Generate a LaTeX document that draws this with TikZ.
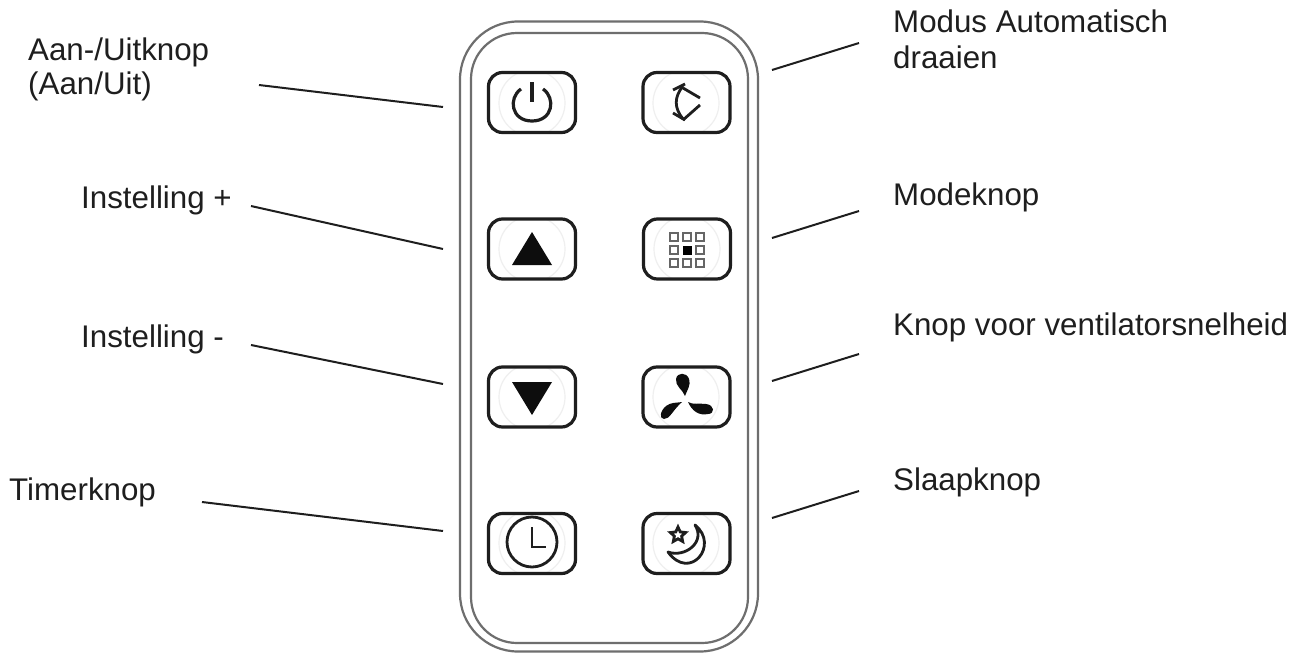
\documentclass[tikz,border=0pt]{standalone}
\usepackage{fontspec}
\setmainfont{Liberation Sans}
\usetikzlibrary{shapes.geometric}
\definecolor{ink}{HTML}{1E1E1E}
\definecolor{shell}{HTML}{6E6E6E}
\definecolor{halo}{HTML}{EFEFEF}
\tikzset{
  x=1pt,y=-1pt,
  lab/.style={anchor=base west,inner sep=0pt,text=ink,font=\fontsize{31.3}{36}\selectfont},
  leader/.style={draw=ink,line width=2pt},
  btn/.style={draw=ink,line width=3.2pt,rounded corners=14pt,minimum width=87pt,minimum height=60pt,inner sep=0pt},
  icon/.style={draw=ink,line width=2.8pt},
  haloline/.style={draw=halo,line width=1.2pt},
  gridcell/.style={draw=black!60,line width=1.8pt,minimum size=8pt,inner sep=0pt},
}
\begin{document}
\begin{tikzpicture}
\useasboundingbox (0,0) rectangle (1290,653);
\fill[white] (0,0) rectangle (1290,653);
% body
\node[draw=shell,line width=2.2pt,rounded corners=58pt,minimum width=298pt,minimum height=630pt,inner sep=0pt] (shellouter) at (609,336.5) {};
\node[draw=shell,line width=2.2pt,rounded corners=46pt,minimum width=277pt,minimum height=610pt,inner sep=0pt] (shellinner) at (609.5,338) {};
% halos
\foreach \cx/\cy in {532/103,686/103,532/249,687/249,532/397,686/397,532/543,686/543}{
  \begin{scope}
    \clip (\cx-43,\cy-29) rectangle (\cx+43,\cy+29);
    \draw[haloline] (\cx,\cy) circle[radius=33pt];
  \end{scope}
}
% buttons
\node[btn] (power) at (532,102.5) {};
\node[btn] (swing) at (686.5,102.5) {};
\node[btn] (plus) at (532,249) {};
\node[btn] (mode) at (687,249) {};
\node[btn] (minus) at (532,397) {};
\node[btn] (fan) at (686.5,397) {};
\node[btn] (timer) at (532,543.5) {};
\node[btn] (sleep) at (686.5,543.5) {};
% power icon
\draw[icon,line width=3.2pt] (521,89) .. controls (508,98) and (511,121) .. (532,121) .. controls (553,121) and (556,98) .. (543,89);
\draw[icon,line width=3.2pt] (532,82) -- (532,102);
% swing icon
\draw[icon] (683,88) -- (700,98);
\draw[icon] (700,105) -- (683,120);
\draw[icon] (683,86) .. controls (674,97) and (674,108) .. (683,119);
\draw[icon] (673,90) -- (685,84);
\draw[icon] (673,113) -- (685,120);
% triangles
\fill[black!95] (532,232) -- (552,265) -- (512,265) -- cycle;
\fill[black!95] (512,382) -- (552,382) -- (532,415) -- cycle;
% mode icon
\foreach \i in {-1,0,1}{\foreach \j in {-1,0,1}{
  \ifnum\i=0 \ifnum\j=0 \else
    \node[gridcell] at (687+13*\i,250+13*\j) {};
  \fi\else
    \node[gridcell] at (687+13*\i,250+13*\j) {};
  \fi
}}
\node[fill=black,minimum size=9pt,inner sep=0pt] (modedot) at (687,250) {};
% fan icon
\begin{scope}[shift={(685,399)}]
  \fill[black!95] (0,-3) .. controls (-2,-9) and (-10,-13) .. (-9,-20) .. controls (-8,-27) and (2,-27) .. (4,-20) .. controls (6,-13) and (2,-9) .. (0,-3) -- cycle;
  \fill[black!95] (3,3) .. controls (8,6) and (14,4) .. (21,5) .. controls (30,6) and (30,15) .. (23,15) .. controls (14,17) and (7,12) .. (3,3) -- cycle;
  \fill[black!95] (-3,3) .. controls (-8,4) and (-14,3) .. (-19,7) .. controls (-25,12) and (-26,20) .. (-21,20) .. controls (-15,20) and (-13,12) .. (-3,3) -- cycle;
\end{scope}
% clock icon
\node[draw=ink,line width=2.8pt,circle,minimum size=50pt,inner sep=0pt] (clockface) at (532,542) {};
\draw[icon] (532,527) -- (532,547) -- (546,547);
% sleep icon
\draw[icon,line join=round] (695,525) .. controls (720,545) and (690,582) .. (668,552) .. controls (685,558) and (706,542) .. (695,525) -- cycle;
\node[draw=ink,line width=2.8pt,star,star points=5,star point ratio=2.1,minimum size=16pt,inner sep=0pt] (starmark) at (678,535) {};
% labels
\node[lab] (l1a) at (28,60) {Aan-/Uitknop};
\node[lab] (l1b) at (28,94) {(Aan/Uit)};
\node[lab] (l2) at (81,208) {Instelling +};
\node[lab] (l3) at (81,347) {Instelling -};
\node[lab] (l4) at (9,500) {Timerknop};
\node[lab] (r1a) at (893,32) {Modus Automatisch};
\node[lab] (r1b) at (893,68) {draaien};
\node[lab] (r2) at (893,205) {Modeknop};
\node[lab] (r3) at (893,335) {Knop voor ventilatorsnelheid};
\node[lab] (r4) at (893,490) {Slaapknop};
% connector ends
\coordinate (a1) at (259,85); \coordinate (a2) at (443,107);
\coordinate (b1) at (251,206); \coordinate (b2) at (443,249);
\coordinate (c1) at (251,345); \coordinate (c2) at (443,384);
\coordinate (d1) at (202,502); \coordinate (d2) at (443,531);
\coordinate (e1) at (859,43); \coordinate (e2) at (772,70);
\coordinate (f1) at (859,211); \coordinate (f2) at (772,238);
\coordinate (g1) at (859,354); \coordinate (g2) at (772,381);
\coordinate (h1) at (859,491); \coordinate (h2) at (772,518);
\foreach \p/\q in {a1/a2,b1/b2,c1/c2,d1/d2,e1/e2,f1/f2,g1/g2,h1/h2}{
  \draw[leader] (\p) -- (\q);
}
\end{tikzpicture}
\end{document}
